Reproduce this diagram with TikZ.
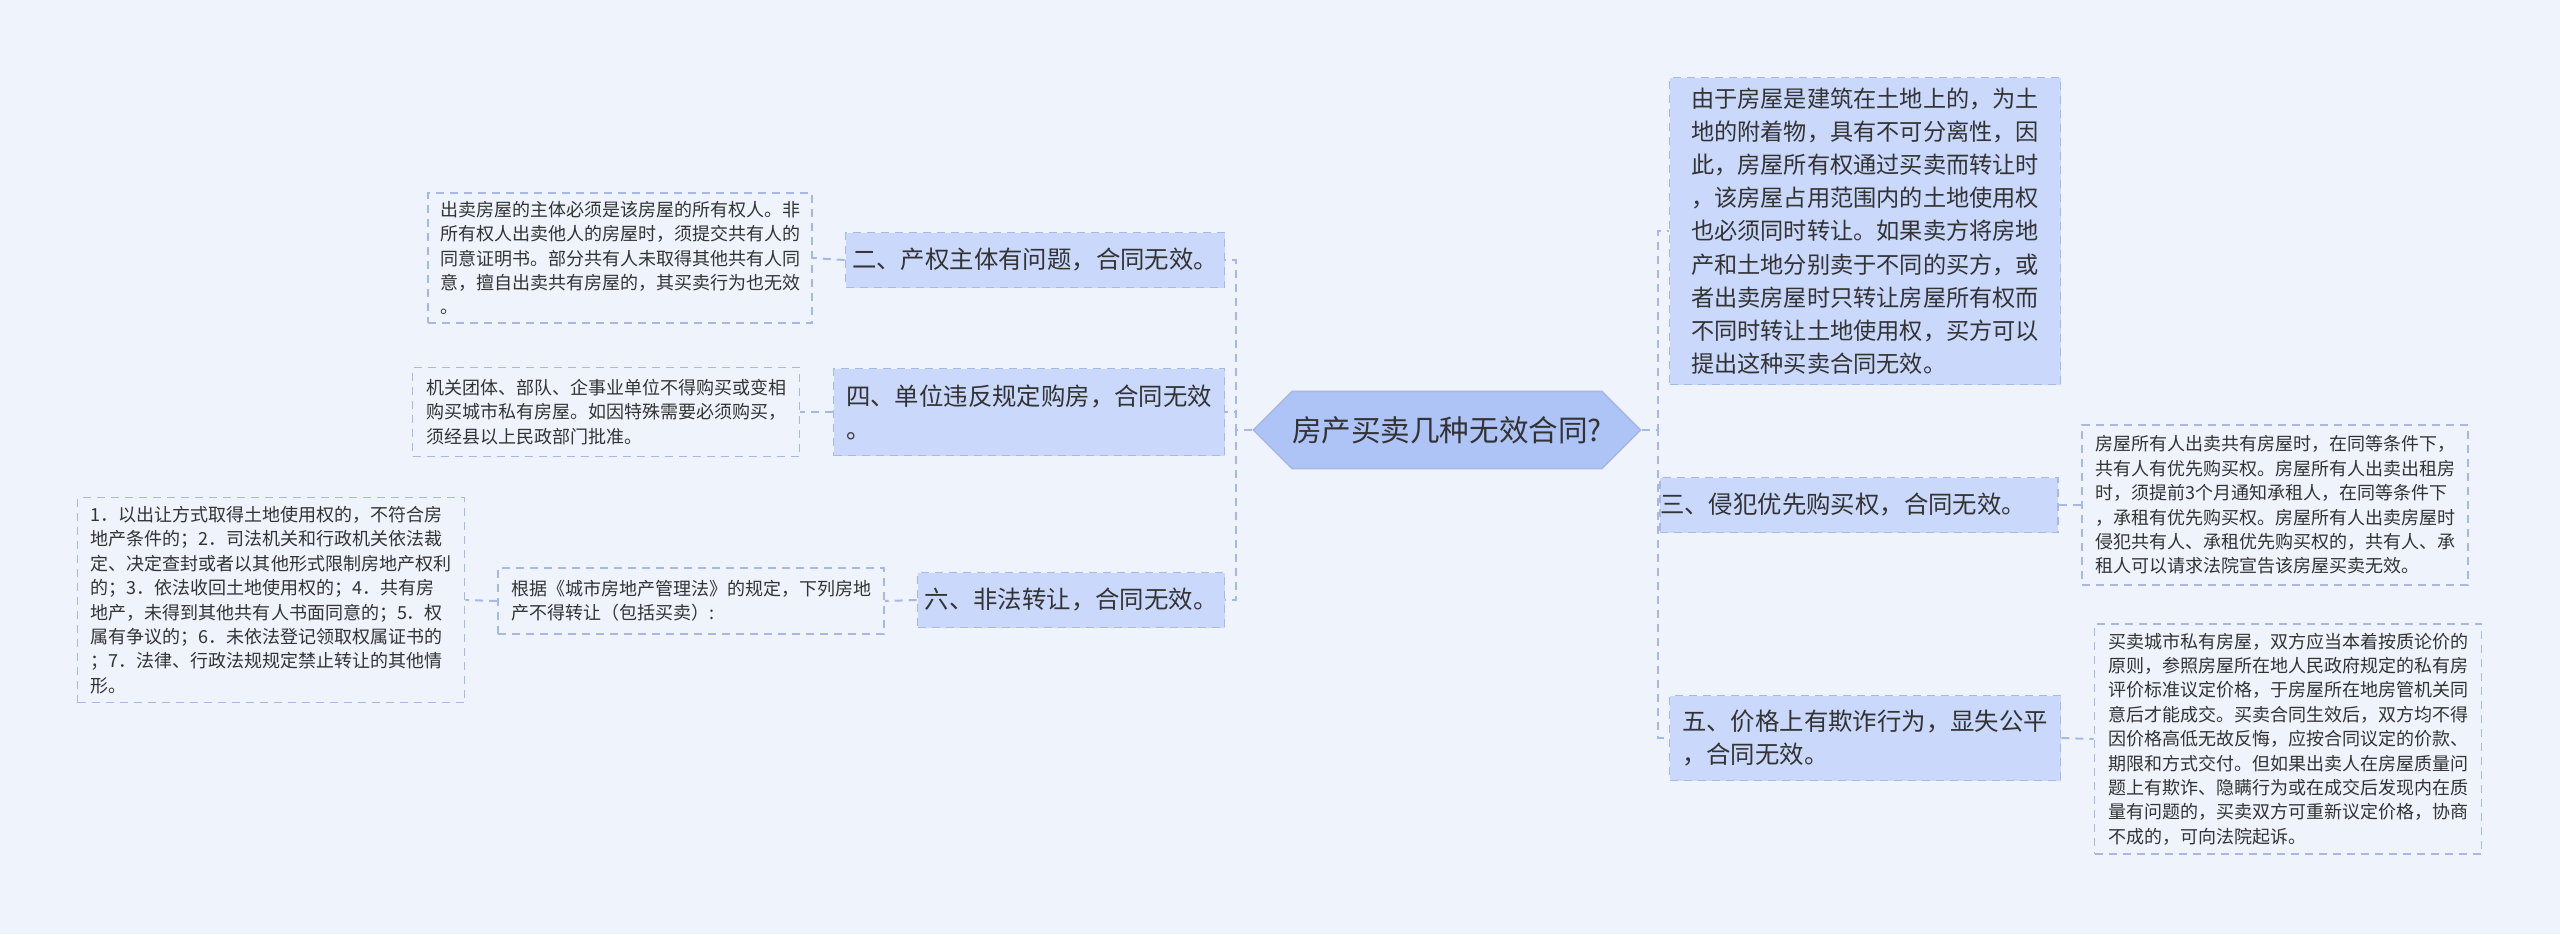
\documentclass[tikz,border=0pt]{standalone}
\usepackage{fontspec}
\setmainfont{Noto Sans CJK SC}
\usetikzlibrary{positioning,shapes.symbols}
\definecolor{bg}{HTML}{EEF3FC}
\definecolor{boxfill}{HTML}{C9D8FB}
\definecolor{rootfill}{HTML}{AEC4F7}
\definecolor{edge}{HTML}{A8B8E4}
\definecolor{txt}{HTML}{333333}
\tikzset{
  topic/.style={draw=edge,fill=boxfill,dash pattern=on 2pt off 1.5pt,line width=0.4pt,align=left,text=txt,inner sep=0pt,anchor=center},
  note/.style={draw=edge,fill=bg,dash pattern=on 2pt off 1.5pt,line width=0.4pt,align=left,text=txt,inner sep=0pt,anchor=center,font=\fontsize{4.5pt}{6.1pt}\selectfont},
  link/.style={draw=edge,dash pattern=on 2pt off 1.5pt,line width=0.5pt}
}
\begin{document}
\begin{tikzpicture}[x=0.25pt,y=-0.25pt]
\useasboundingbox[fill=bg] (0,0) rectangle (2560,934);

\node (root) [signal,signal to=west and east,draw=edge,fill=rootfill,text=txt,minimum width=95.25pt,minimum height=19.25pt,inner sep=0pt,font=\fontsize{7.4pt}{9pt}\selectfont] at (1447,430) {房产买卖几种无效合同?};

% right side
\node (b1) [topic,minimum width=97.75pt,minimum height=76.75pt,font=\fontsize{5.8pt}{8.3pt}\selectfont] at (1865,231) {由于房屋是建筑在土地上的，为土\\地的附着物，具有不可分离性，因\\此，房屋所有权通过买卖而转让时\\，该房屋占用范围内的土地使用权\\也必须同时转让。如果卖方将房地\\产和土地分别卖于不同的买方，或\\者出卖房屋时只转让房屋所有权而\\不同时转让土地使用权，买方可以\\提出这种买卖合同无效。};
\node (b3) [topic,minimum width=94.5pt,minimum height=13.75pt,font=\fontsize{6.1pt}{8.3pt}\selectfont] at (1859,505) {三、侵犯优先购买权，合同无效。\hspace{8pt}};
\node (d3) [note,minimum width=96.5pt,minimum height=40pt] at (2275,505) {房屋所有人出卖共有房屋时，在同等条件下，\\共有人有优先购买权。房屋所有人出卖出租房\\时，须提前3个月通知承租人，在同等条件下\\，承租有优先购买权。房屋所有人出卖房屋时\\侵犯共有人、承租优先购买权的，共有人、承\\租人可以请求法院宣告该房屋买卖无效。};
\node (b5) [topic,minimum width=97.75pt,minimum height=21.25pt,font=\fontsize{6.1pt}{8.3pt}\selectfont] at (1865,738) {五、价格上有欺诈行为，显失公平\\，合同无效。\hspace{40pt}};
\node (d5) [note,minimum width=96.75pt,minimum height=57.5pt] at (2288,739) {买卖城市私有房屋，双方应当本着按质论价的\\原则，参照房屋所在地人民政府规定的私有房\\评价标准议定价格，于房屋所在地房管机关同\\意后才能成交。买卖合同生效后，双方均不得\\因价格高低无故反悔，应按合同议定的价款、\\期限和方式交付。但如果出卖人在房屋质量问\\题上有欺诈、隐瞒行为或在成交后发现内在质\\量有问题的，买卖双方可重新议定价格，协商\\不成的，可向法院起诉。};

% left side
\node (b2) [topic,minimum width=94.75pt,minimum height=13.75pt,font=\fontsize{6.1pt}{8.3pt}\selectfont] at (1035,260) {二、产权主体有问题，合同无效。};
\node (d2) [note,minimum width=96pt,minimum height=32.5pt] at (620,258) {出卖房屋的主体必须是该房屋的所有权人。非\\所有权人出卖他人的房屋时，须提交共有人的\\同意证明书。部分共有人未取得其他共有人同\\意，擅自出卖共有房屋的，其买卖行为也无效\\。};
\node (b4) [topic,minimum width=97.75pt,minimum height=21.75pt,font=\fontsize{6.1pt}{8.3pt}\selectfont] at (1029,412) {四、单位违反规定购房，合同无效\\。};
\node (d4) [note,minimum width=96.75pt,minimum height=22.25pt] at (606,412) {机关团体、部队、企事业单位不得购买或变相\\购买城市私有房屋。如因特殊需要必须购买，\\须经县以上民政部门批准。};
\node (b6) [topic,minimum width=76.75pt,minimum height=13.75pt,font=\fontsize{6.1pt}{8.3pt}\selectfont] at (1071,600) {六、非法转让，合同无效。};
\node (d6) [note,minimum width=96.5pt,minimum height=16.5pt] at (691,601) {根据《城市房地产管理法》的规定，下列房地\\产不得转让（包括买卖）:};
\node (d7) [note,minimum width=96.75pt,minimum height=51.25pt] at (271,600) {1．以出让方式取得土地使用权的，不符合房\\地产条件的；2．司法机关和行政机关依法裁\\定、决定查封或者以其他形式限制房地产权利\\的；3．依法收回土地使用权的；4．共有房\\地产，未得到其他共有人书面同意的；5．权\\属有争议的；6．未依法登记领取权属证书的\\；7．法律、行政法规规定禁止转让的其他情\\形。};

\draw[link] (root.east) -- ++(16,0) |- (b1.west);
\draw[link] (root.east) -- ++(16,0) |- (b3.west);
\draw[link] (root.east) -- ++(16,0) |- (b5.west);
\draw[link] (root.west) -- ++(-16,0) |- (b2.east);
\draw[link] (root.west) -- ++(-16,0) |- (b4.east);
\draw[link] (root.west) -- ++(-16,0) |- (b6.east);
\draw[link] (b3.east) -- (d3.west);
\draw[link] (b5.east) -- (d5.west);
\draw[link] (b2.west) -- (d2.east);
\draw[link] (b4.west) -- (d4.east);
\draw[link] (b6.west) -- (d6.east);
\draw[link] (d6.west) -- (d7.east);
\end{tikzpicture}
\end{document}
